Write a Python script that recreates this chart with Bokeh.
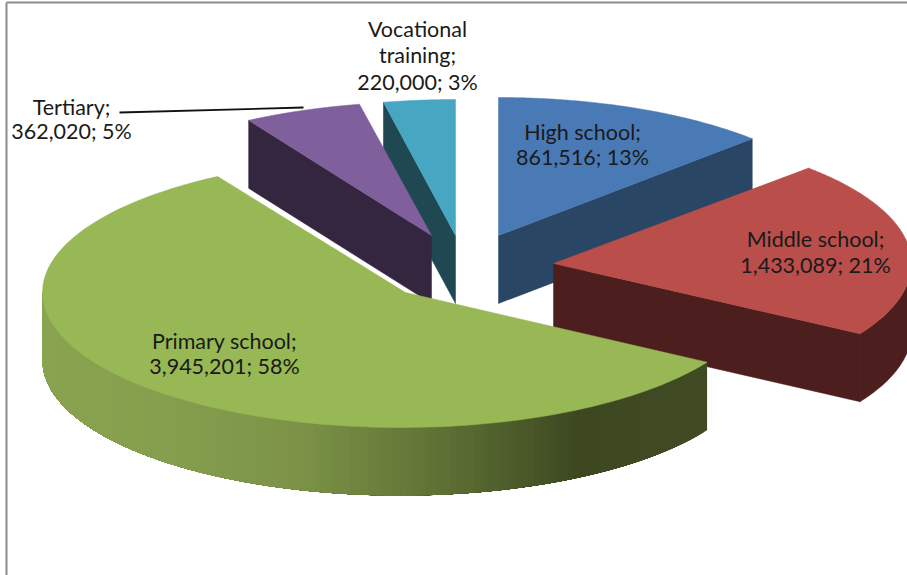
import numpy as np
from bokeh.plotting import figure
from bokeh.models import Range1d
from bokeh.core.properties import value
from bokeh.embed import file_html
from bokeh.resources import INLINE

categories = ["High school", "Middle school", "Primary school", "Tertiary", "Vocational training"]
values = [861516, 1433089, 3945201, 362020, 220000]
percents = ["13%", "21%", "58%", "5%", "3%"]
top_colors = ["#4a7ab5", "#b94e4b", "#98b755", "#7f609c", "#47a7c2"]
wall_colors = ["#2a4665", "#4c1e1d", "#8aa350", "#352640", "#1f4853"]
tips = {"High school": (498, 235), "Middle school": (553, 263), "Primary school": (405, 292),
        "Tertiary": (431, 235), "Vocational training": (455, 235)}
# ellipse centre and radii of each slice (the picture has a slight perspective)
ellipses = {"High school": (498, 235, 356, 138), "Middle school": (553, 263, 358, 136),
            "Primary school": (400, 292, 358, 135), "Tertiary": (431, 235, 358, 134),
            "Vocational training": (455, 235, 358, 136)}
label_pos = {"High school": (582, 131, 156), "Middle school": (815, 238, 264),
             "Primary school": (224, 340, 365), "Tertiary": (71, 106, 130)}

DEPTH = 68
W, H = 907, 575

p = figure(width=W, height=H, x_range=Range1d(0, W), y_range=Range1d(H, 0),
           output_backend="svg", toolbar_location=None, min_border=0,
           outline_line_color=None, background_fill_color="white", border_fill_color="white")
p.axis.visible = False
p.grid.visible = False

# frame of the picture
p.line([6, 6], [H, 2], line_color="#8c8c8c", line_width=2)
p.line([6, W], [2, 2], line_color="#8c8c8c", line_width=2)

total = sum(values)
edges = np.concatenate([[0], np.cumsum(values) / total * 2 * np.pi])
angle = dict((c, (edges[i], edges[i + 1])) for i, c in enumerate(categories))


def rim(name, t):
    cx, cy, rx, ry = ellipses[name]
    return cx + rx * np.sin(t), cy - ry * np.cos(t)


def patch(xs, ys, color, lw=0.5):
    p.patch(list(xs), list(ys), fill_color=color, line_color=color if lw else None, line_width=lw or 1)


def top(name, color):
    a, b = angle[name]
    t = np.linspace(a, b, 120)
    x, y = rim(name, t)
    cx, cy = tips[name]
    patch(np.r_[cx, x], np.r_[cy, y], color)


def face(name, t, color):
    cx, cy = tips[name]
    x, y = rim(name, t)
    patch([cx, x, x, cx], [cy, y, y + DEPTH, cy + DEPTH], color)


def outer(name, t0, t1, color, lw=0.5):
    t = np.linspace(t0, t1, 40)
    x, y = rim(name, t)
    patch(np.r_[x, x[::-1]], np.r_[y, y[::-1] + DEPTH], color, lw)


idx = {c: i for i, c in enumerate(categories)}

# High school
n = "High school"
face(n, angle[n][1], wall_colors[idx[n]])
top(n, top_colors[idx[n]])

# Vocational training
n = "Vocational training"
face(n, angle[n][0], wall_colors[idx[n]])
top(n, top_colors[idx[n]])

# Tertiary
n = "Tertiary"
face(n, angle[n][0], wall_colors[idx[n]])
top(n, top_colors[idx[n]])

# Middle school
n = "Middle school"
outer(n, np.pi / 2, angle[n][1], wall_colors[idx[n]])
face(n, angle[n][1], wall_colors[idx[n]])
top(n, top_colors[idx[n]])

# Primary school: shaded outer wall, narrow overlapping strips
n = "Primary school"
stops_x = [42, 160, 300, 440, 580, 705]
stops_c = [(0x8a, 0xa3, 0x50), (0x86, 0x9f, 0x4e), (0x7c, 0x93, 0x47), (0x5f, 0x72, 0x35), (0x3d, 0x48, 0x21), (0x40, 0x4b, 0x23)]
ts = np.linspace(angle[n][0], 1.5 * np.pi, 150)
for t0 in ts[:-1]:
    xm = rim(n, t0)[0]
    col = "#%02x%02x%02x" % tuple(int(round(np.interp(xm, stops_x, [c[k] for c in stops_c]))) for k in range(3))
    outer(n, t0, 1.5 * np.pi, col, 0)
top(n, top_colors[idx[n]])

# leader line
p.line([119, 303], [112, 107], line_color="#111111", line_width=1.8)


def label(x, y, text):
    p.text([x], [y], text=[text], text_font=value("Lato"), text_font_size="21.5px",
           text_color="#1a1a1a", text_align="center", text_baseline="middle")


def fmt(c):
    return f"{values[idx[c]]:,}; {percents[idx[c]]}"


for c, (x, y1, y2) in label_pos.items():
    label(x, y1, c + ";")
    label(x, y2, fmt(c))

label(417, 28, "Vocational")
label(417, 54, "training;")
label(417, 81, fmt("Vocational training"))

open("out.html", "w").write(file_html(p, INLINE))
